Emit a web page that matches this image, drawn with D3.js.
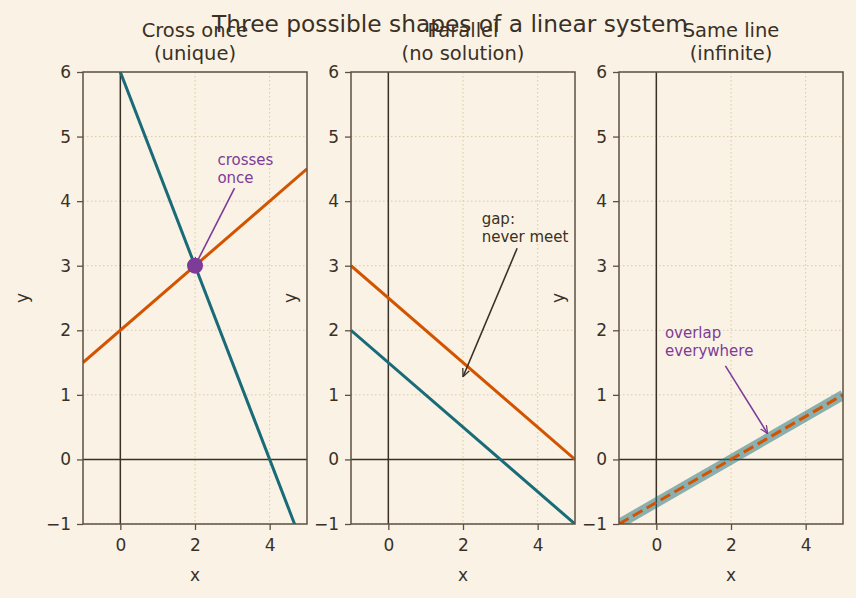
<!DOCTYPE html>
<html>
<head>
<meta charset="utf-8">
<script src="https://cdn.jsdelivr.net/npm/d3@7"></script>
<style>
  body { margin: 0; background: #faf3e5; }
  svg { display: block; font-family: "DejaVu Sans", sans-serif; }
</style>
</head>
<body>
<svg id="visualization" width="856" height="598"></svg>
<script>
const xTicks = [0, 2, 4];
const yTicks = [-1, 0, 1, 2, 3, 4, 5, 6];
const xDomain = [-1, 5];
const yDomain = [-1, 6];

const panelTitles = [["Cross once", "(unique)"], ["Parallel", "(no solution)"], ["Same line", "(infinite)"]];

// each line: [x, y] endpoints
const crossTeal = [[-1, 7.5], [5, -1.5]];
const crossOrange = [[-1, 1.5], [5, 4.5]];
const crossPoint = [2, 3];
const parallelOrange = [[-1, 3], [5, 0]];
const parallelTeal = [[-1, 2], [5, -1]];
const sameLine = [[-1, -1], [5, 1]];

const notes = [
    { panel: 0, lines: ["crosses", "once"], text: [2.6, 4.56], target: [2, 3], from: [3.06, 4.2], colour: "#7d3c98" },
    { panel: 1, lines: ["gap:", "never meet"], text: [2.5, 3.65], target: [2, 1.28], from: [3.45, 3.27], colour: "#3a3026" },
    { panel: 2, lines: ["overlap", "everywhere"], text: [0.23, 1.88], target: [2.98, 0.4], from: [1.85, 1.45], colour: "#7d3c98" }
];

const bg = "#faf3e5";
const spine = "#5c5042";
const ink = "#3a3026";
const teal = "#1a6b78";
const orange = "#d35400";

const svg = d3.select("#visualization");
svg.append("rect").attr("width", 856).attr("height", 598).attr("fill", bg);

svg.append("text")
    .attr("x", 450).attr("y", 32)
    .attr("text-anchor", "middle")
    .attr("font-size", 23.3)
    .attr("fill", ink)
    .text("Three possible shapes of a linear system");

svg.append("defs").selectAll("marker")
    .data(notes)
    .join("marker")
    .attr("id", (_, i) => `arrow${i}`)
    .attr("viewBox", "0 0 10 10")
    .attr("refX", 10).attr("refY", 5)
    .attr("markerWidth", 8).attr("markerHeight", 8)
    .attr("markerUnits", "userSpaceOnUse")
    .attr("orient", "auto")
    .append("path")
    .attr("d", "M0,0.5 L10,5 L0,9.5")
    .attr("fill", "none")
    .attr("stroke", d => d.colour)
    .attr("stroke-width", 1.6);

const panelLeft = [83, 351, 619];
const plotTop = 72, plotBottom = 524, panelWidth = 224;

panelLeft.forEach((left, p) => {
    const x = d3.scaleLinear().domain(xDomain).range([left, left + panelWidth]);
    const y = d3.scaleLinear().domain(yDomain).range([plotBottom, plotTop]);
    const g = svg.append("g");

    // grid
    g.selectAll(".gx").data(xTicks).join("line")
        .attr("x1", d => x(d)).attr("x2", d => x(d))
        .attr("y1", plotTop).attr("y2", plotBottom)
        .attr("stroke", "#d6c49c").attr("stroke-width", 0.9).attr("stroke-dasharray", "1.5 2.5");
    g.selectAll(".gy").data(yTicks).join("line")
        .attr("y1", d => y(d)).attr("y2", d => y(d))
        .attr("x1", left).attr("x2", left + panelWidth)
        .attr("stroke", "#d6c49c").attr("stroke-width", 0.9).attr("stroke-dasharray", "1.5 2.5");

    // zero axes
    g.append("line").attr("x1", left).attr("x2", left + panelWidth).attr("y1", y(0)).attr("y2", y(0))
        .attr("stroke", ink).attr("stroke-width", 1.5);
    g.append("line").attr("x1", x(0)).attr("x2", x(0)).attr("y1", plotTop).attr("y2", plotBottom)
        .attr("stroke", ink).attr("stroke-width", 1.5);

    const clipId = `clip${p}`;
    svg.append("clipPath").attr("id", clipId).append("rect")
        .attr("x", left).attr("y", plotTop).attr("width", panelWidth).attr("height", plotBottom - plotTop);
    const plot = g.append("g").attr("clip-path", `url(#${clipId})`);
    const line = d3.line().x(d => x(d[0])).y(d => y(d[1]));

    if (p === 0) {
        plot.append("path").attr("d", line(crossOrange)).attr("stroke", orange).attr("stroke-width", 3).attr("fill", "none");
        plot.append("path").attr("d", line(crossTeal)).attr("stroke", teal).attr("stroke-width", 3).attr("fill", "none");
        plot.append("circle").attr("cx", x(crossPoint[0])).attr("cy", y(crossPoint[1])).attr("r", 8).attr("fill", "#7d3c98");
    } else if (p === 1) {
        plot.append("path").attr("d", line(parallelOrange)).attr("stroke", orange).attr("stroke-width", 3).attr("fill", "none");
        plot.append("path").attr("d", line(parallelTeal)).attr("stroke", teal).attr("stroke-width", 3).attr("fill", "none");
    } else {
        plot.append("path").attr("d", line(sameLine)).attr("stroke", teal).attr("stroke-opacity", 0.5).attr("stroke-width", 10).attr("fill", "none");
        plot.append("path").attr("d", line(sameLine)).attr("stroke", orange).attr("stroke-width", 3).attr("stroke-dasharray", "11 5").attr("fill", "none");
    }

    // spines
    g.append("rect").attr("x", left).attr("y", plotTop).attr("width", panelWidth).attr("height", plotBottom - plotTop)
        .attr("fill", "none").attr("stroke", spine).attr("stroke-width", 1.5);

    // axes
    const fmt = d => d < 0 ? "\u2212" + (-d) : d;
    const xAxis = g.append("g").attr("transform", `translate(0,${plotBottom})`)
        .call(d3.axisBottom(x).tickValues(xTicks).tickSize(6).tickPadding(9).tickFormat(fmt));
    const yAxis = g.append("g").attr("transform", `translate(${left},0)`)
        .call(d3.axisLeft(y).tickValues(yTicks).tickSize(6).tickPadding(6).tickFormat(fmt));
    [xAxis, yAxis].forEach(a => {
        a.select(".domain").remove();
        a.selectAll("line").attr("stroke", spine).attr("stroke-width", 1.3);
        a.selectAll("text").attr("fill", ink).attr("font-size", 17).attr("font-family", "DejaVu Sans");
    });

    g.append("text").attr("x", left + panelWidth / 2).attr("y", 581).attr("text-anchor", "middle")
        .attr("font-size", 17).attr("fill", ink).text("x");
    g.append("text").attr("transform", `translate(${left - 55},${(plotTop + plotBottom) / 2}) rotate(-90)`)
        .attr("text-anchor", "middle").attr("font-size", 17).attr("fill", ink).text("y");

    g.append("text").attr("x", left + panelWidth / 2).attr("y", 37).attr("text-anchor", "middle")
        .attr("font-size", 19.5).attr("fill", ink)
        .selectAll("tspan").data(panelTitles[p]).join("tspan")
        .attr("x", left + panelWidth / 2).attr("dy", (_, i) => i === 0 ? 0 : 23).text(d => d);

    notes.filter(n => n.panel === p).forEach(n => {
        g.append("text").attr("x", x(n.text[0])).attr("y", y(n.text[1])).attr("font-size", 15).attr("fill", n.colour)
            .selectAll("tspan").data(n.lines).join("tspan")
            .attr("x", x(n.text[0])).attr("dy", (_, i) => i === 0 ? 0 : 18).text(d => d);
        g.append("line")
            .attr("x1", x(n.from[0])).attr("y1", y(n.from[1]))
            .attr("x2", x(n.target[0])).attr("y2", y(n.target[1]))
            .attr("stroke", n.colour).attr("stroke-width", 1.6)
            .attr("marker-end", `url(#arrow${notes.indexOf(n)})`);
    });
});
</script>
</body>
</html>
